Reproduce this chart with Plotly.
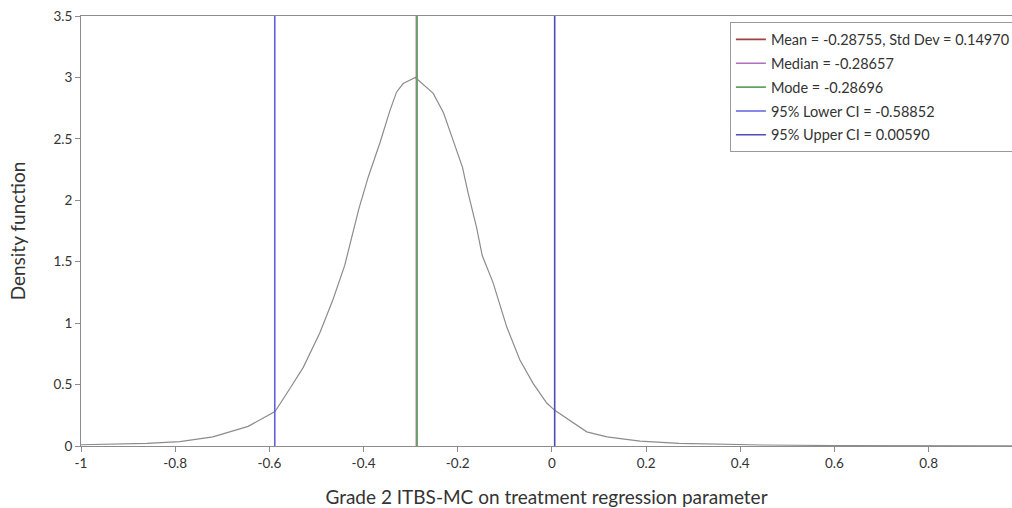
import plotly.graph_objects as go

# Density curve
curve_x = [-1.00, -0.93, -0.86, -0.79, -0.72, -0.645, -0.588, -0.556, -0.528, -0.493,
           -0.465, -0.44, -0.41, -0.39, -0.365, -0.344, -0.33, -0.316, -0.29,
           -0.252, -0.23, -0.21, -0.19, -0.178, -0.16, -0.148, -0.125, -0.096,
           -0.068, -0.04, -0.011, 0.006, 0.059, 0.074, 0.117, 0.187, 0.27, 0.357,
           0.45, 0.6, 0.8, 0.98]
curve_y = [0.010, 0.015, 0.022, 0.035, 0.075, 0.16, 0.28, 0.47, 0.64, 0.92,
           1.19, 1.47, 1.93, 2.19, 2.47, 2.73, 2.88, 2.95, 3.00,
           2.87, 2.71, 2.49, 2.27, 2.06, 1.78, 1.55, 1.33, 0.97,
           0.70, 0.51, 0.35, 0.29, 0.155, 0.115, 0.075, 0.04, 0.022, 0.013,
           0.008, 0.004, 0.002, 0.001]

# Reference lines
line_names = ["Mean = -0.28755, Std Dev = 0.14970", "Median = -0.28657", "Mode = -0.28696",
              "95% Lower CI = -0.58852", "95% Upper CI = 0.00590"]
line_values = [-0.28755, -0.28657, -0.28696, -0.58852, 0.00590]
line_colors = ["#a04040", "#b070c0", "#5fa55f", "#6060e0", "#4c4cb8"]

x_tick_vals = [-1, -0.8, -0.6, -0.4, -0.2, 0, 0.2, 0.4, 0.6, 0.8]
x_tick_text = ["-1", "-0.8", "-0.6", "-0.4", "-0.2", "0", "0.2", "0.4", "0.6", "0.8"]
y_tick_vals = [0, 0.5, 1, 1.5, 2, 2.5, 3, 3.5]
y_tick_text = ["0", "0.5", "1", "1.5", "2", "2.5", "3", "3.5"]

Y_MAX = 3.5
FONT = "Lato"

fig = go.Figure()
fig.add_trace(go.Scatter(x=curve_x, y=curve_y, mode="lines",
                         line=dict(color="#8c8c8c", width=1.2),
                         showlegend=False, hoverinfo="skip"))
for i, (name, v, c) in enumerate(zip(line_names, line_values, line_colors)):
    fig.add_trace(go.Scatter(x=[v, v], y=[0, Y_MAX], mode="lines", name=name,
                             legendgroup=f"g{i}",
                             line=dict(color=c, width=1.6)))

fig.update_layout(
    width=1012, height=508,
    margin=dict(l=81, r=0, t=16, b=62, autoexpand=False),
    paper_bgcolor="white", plot_bgcolor="white",
    font=dict(family=FONT, color="#333333"),
    legend=dict(x=0.697, y=0.985, xanchor="left", yanchor="top",
                bordercolor="#9a9a9a", borderwidth=1, bgcolor="white",
                font=dict(family=FONT, size=14.5, color="#333333"),
                tracegroupgap=2, itemwidth=30,
                traceorder="grouped"),
    xaxis=dict(range=[-1, 0.977], tickvals=x_tick_vals, ticktext=x_tick_text,
               showgrid=False, zeroline=False, showline=True, linecolor="#8c8c8c",
               linewidth=1, mirror=True, ticks="outside", ticklen=5, tickcolor="#8c8c8c",
               tickfont=dict(family=FONT, size=13.5, color="#333333"),
               title=dict(text="Grade 2 ITBS-MC on treatment regression parameter",
                          font=dict(family=FONT, size=19, color="#333333"), standoff=20)),
    yaxis=dict(range=[0, Y_MAX], tickvals=y_tick_vals, ticktext=y_tick_text,
               showgrid=False, zeroline=False, showline=True, linecolor="#8c8c8c",
               linewidth=1, ticks="outside", ticklen=5, tickcolor="#8c8c8c",
               tickfont=dict(family=FONT, size=13.5, color="#333333"),
               title=dict(text="Density function",
                          font=dict(family=FONT, size=19, color="#333333"), standoff=22)),
)

fig.write_html("out.html")
